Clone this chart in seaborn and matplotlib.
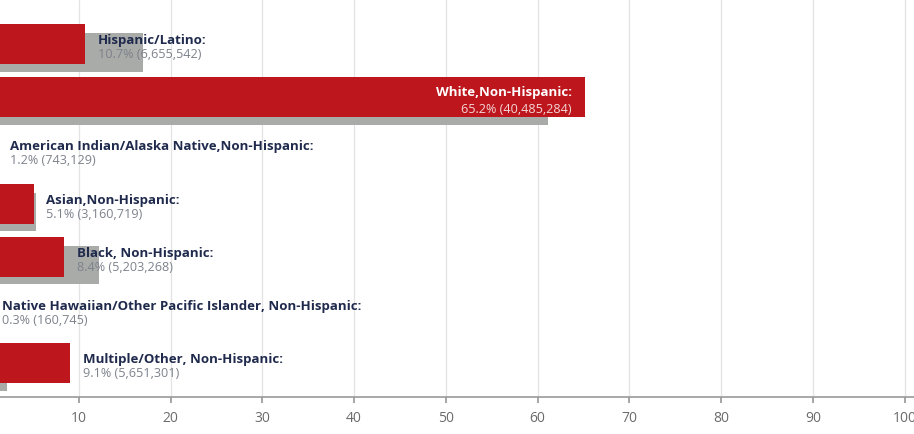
import matplotlib
matplotlib.use("Agg")
import matplotlib.pyplot as plt
import seaborn as sns
import pandas as pd

# Population by race/ethnicity: share (%) and head count, with a comparison share
groups = [
    "Hispanic/Latino:",
    "White,Non-Hispanic:",
    "American Indian/Alaska Native,Non-Hispanic:",
    "Asian,Non-Hispanic:",
    "Black, Non-Hispanic:",
    "Native Hawaiian/Other Pacific Islander, Non-Hispanic:",
    "Multiple/Other, Non-Hispanic:",
]
share = [10.7, 65.2, 1.2, 5.1, 8.4, 0.3, 9.1]
counts = ["6,655,542", "40,485,284", "743,129", "3,160,719", "5,203,268", "160,745", "5,651,301"]
comparison = [17.0, 61.1, 0.7, 5.3, 12.2, 0.2, 2.2]
xticks = [10, 20, 30, 40, 50, 60, 70, 80, 90, 100]

RED = "#bd161d"
GREY = "#a9aba9"
NAVY = "#1f2a4d"
VALUE_GREY = "#7d828c"

df = pd.DataFrame({"group": groups, "share": share, "comparison": comparison})

sns.set_theme(style="white")
plt.rcParams["font.family"] = ["Open Sans", "DejaVu Sans"]

fig = plt.figure(figsize=(9.14, 4.34), dpi=100)
ax = fig.add_axes([0.0, 0.085, 1.0, 0.915])

# comparison bars sit slightly lower, behind the main bars
sns.barplot(data=df, x="comparison", y="group", orient="h", color=GREY,
            width=0.72, saturation=1, linewidth=0, ax=ax, zorder=2)
for p in ax.patches:
    p.set_y(p.get_y() + 0.16)

sns.barplot(data=df, x="share", y="group", orient="h", color=RED,
            width=0.75, saturation=1, linewidth=0, ax=ax, zorder=3)

ax.set_xlim(1.42, 101.0)
ax.set_ylim(6.64, -0.83)
ax.set_xticks(xticks)
ax.set_xticklabels([str(t) for t in xticks], fontsize=10, color="#6b6b6b")
ax.set_yticks([])
ax.set_xlabel("")
ax.set_ylabel("")

ax.grid(axis="x", color="#e3e3e3", linewidth=0.9, zorder=0)
ax.set_axisbelow(True)
for side in ["top", "left", "right"]:
    ax.spines[side].set_visible(False)
ax.spines["bottom"].set_color("#9a9a9a")
ax.spines["bottom"].set_linewidth(1.2)
ax.tick_params(axis="x", length=4, color="#9a9a9a", pad=6, bottom=True)

NAME_SIZE = 9.5
VALUE_SIZE = 9.1
for i, (g, v, c) in enumerate(zip(groups, share, counts)):
    if v > 50:
        ax.annotate(g, (v, i), xytext=(-10, 3.5), textcoords="offset points",
                    ha="right", va="center", fontsize=NAME_SIZE, fontweight="bold",
                    color="white", zorder=5, annotation_clip=False)
        ax.annotate(f"{v}% ({c})", (v, i), xytext=(-10, -8.5), textcoords="offset points",
                    ha="right", va="center", fontsize=VALUE_SIZE, color="#f3d6d6",
                    zorder=5, annotation_clip=False)
    else:
        ax.annotate(g, (v, i), xytext=(9.0, 2.5), textcoords="offset points",
                    ha="left", va="center", fontsize=NAME_SIZE, fontweight="bold",
                    color=NAVY, zorder=5, annotation_clip=False)
        ax.annotate(f"{v}% ({c})", (v, i), xytext=(9.0, -7.5), textcoords="offset points",
                    ha="left", va="center", fontsize=VALUE_SIZE, color=VALUE_GREY,
                    zorder=5, annotation_clip=False)

fig.savefig("out.png", dpi=100)
